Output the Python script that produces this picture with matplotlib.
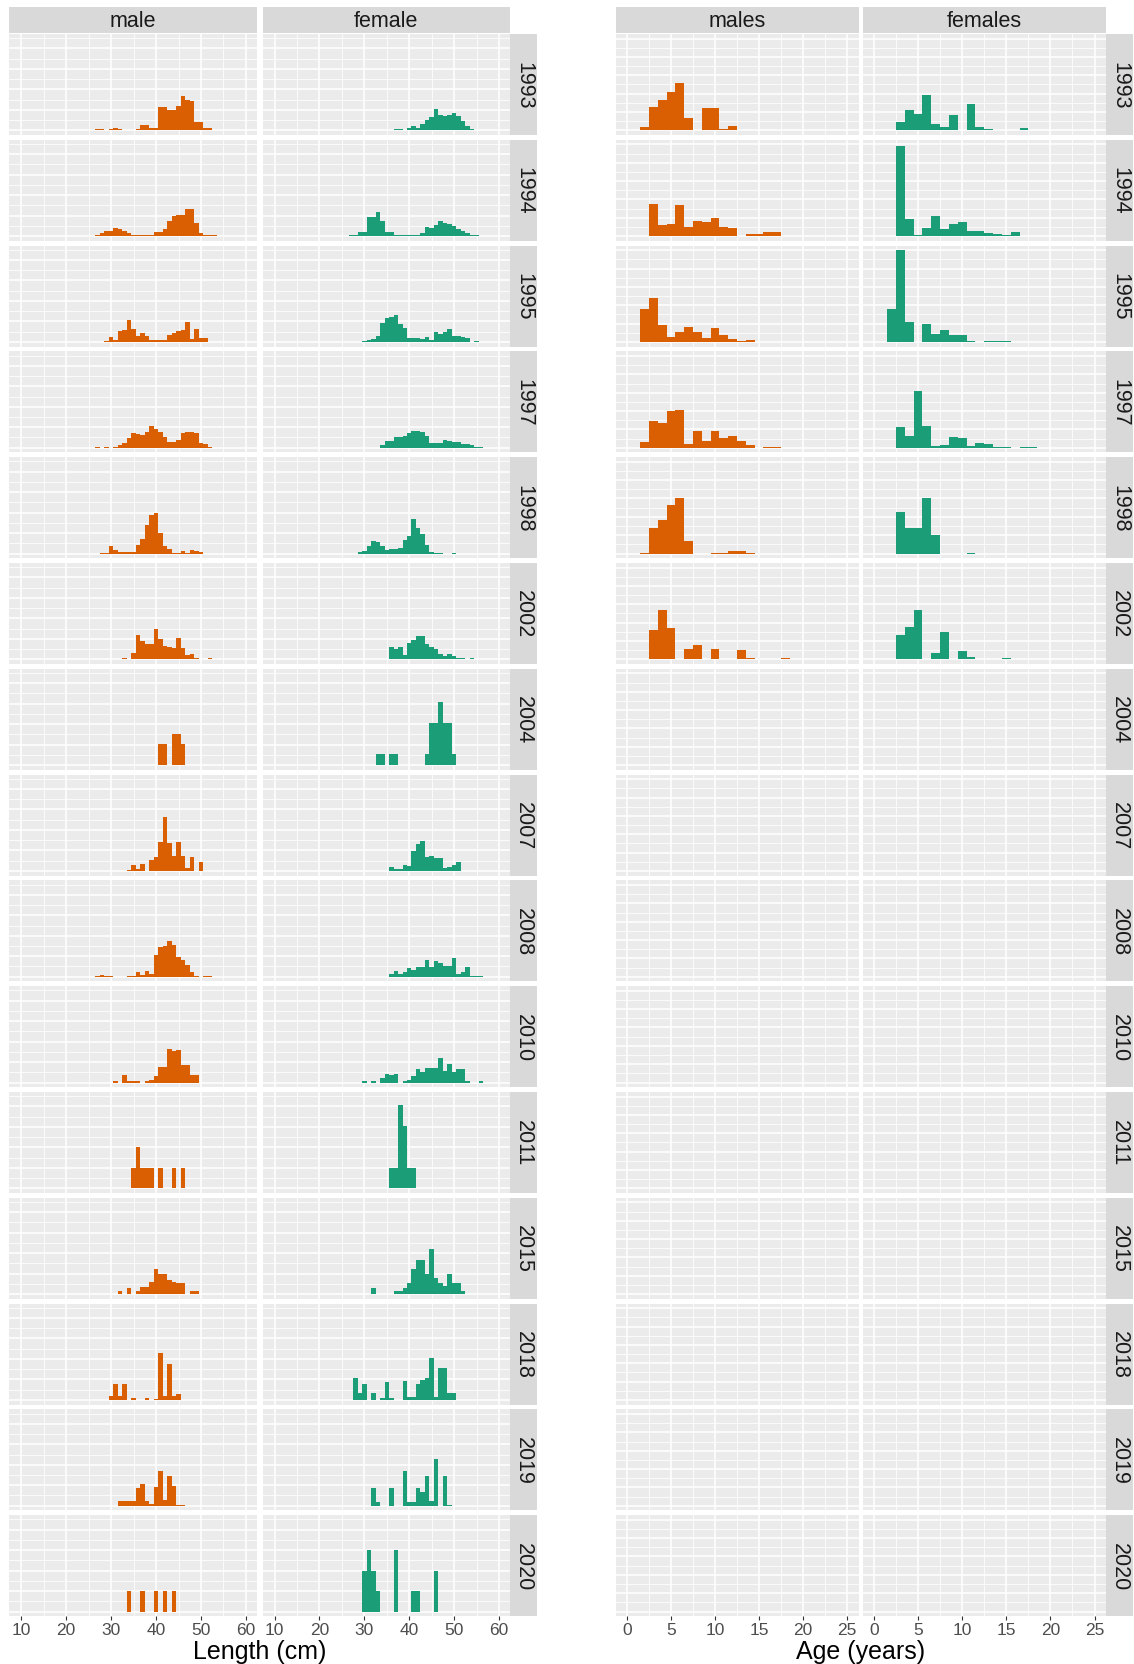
import matplotlib.pyplot as plt
import numpy as np

plt.rcParams['font.family'] = ['Liberation Sans', 'DejaVu Sans']

W, H = 1134, 1665
ORANGE = '#D95F02'
GREEN = '#1B9E77'

years = [1993, 1994, 1995, 1997, 1998, 2002, 2004, 2007, 2008, 2010, 2011, 2015, 2018, 2019, 2020]
age_years = [1993, 1994, 1995, 1997, 1998, 2002]

# length histograms: (first bin centre in cm, heights in % per 1 cm bin)
male_length = {
    1993: (27, [0.5, 0.5, 0, 0.5, 1.3, 0.5, 0, 0.3, 0, 0.5, 2.6, 2.6, 1.3, 1.3, 11.2, 11.2, 10.0, 10.0,
                11.7, 16.9, 15.0, 14.5, 3.9, 3.9, 1.3, 1.3]),
    1994: (27, [0.7, 1.5, 2.3, 2.3, 3.9, 3.3, 2.3, 1.5, 0.7, 0.3, 0.7, 0.3, 0.3, 2.0, 2.0, 3.6, 7.6, 9.8,
                10.1, 10.1, 13.0, 13.0, 6.3, 1.6, 0.7, 0.3, 0.3]),
    1995: (29, [0.5, 2.3, 1.1, 5.5, 5.9, 10.9, 6.3, 2.8, 4.4, 3.1, 0.7, 1.1, 0.7, 1.1, 3.4, 4.4, 5.5, 6.0,
                9.6, 1.3, 6.3, 2.0, 2.0]),
    1997: (27, [0.2, 0, 0.3, 0, 0.5, 1.5, 2.3, 4.7, 7.2, 6.8, 6.3, 7.8, 10.4, 9.1, 7.5, 5.0, 2.9, 2.6,
                3.9, 7.2, 7.6, 7.5, 7.3, 2.3, 1.6, 0.2]),
    1998: (28, [0.2, 0.2, 3.7, 1.8, 0.8, 0.8, 0.8, 0.8, 4.4, 7.3, 14.0, 18.9, 20.0, 10.2, 3.7, 2.1, 0.2,
                0.2, 1.1, 0.3, 1.6, 1.3, 0.5]),
    2002: (33, [0.5, 0, 2.9, 11.7, 8.9, 7.3, 7.3, 15.0, 9.8, 6.3, 5.9, 5.4, 10.2, 5.7, 2.0, 2.8, 0.5, 0,
                0, 0.5]),
    2004: (41, [10.1, 10.1, 0, 15.4, 15.4, 10.1]),
    2007: (34, [0.5, 2.9, 1.0, 3.4, 0.2, 5.5, 6.7, 14.0, 26.2, 13.7, 7.2, 14.3, 7.2, 1.3, 6.7, 0.2, 4.2]),
    2008: (27, [0.3, 0.8, 0.3, 0.3, 0, 0, 0, 0.5, 0.3, 2.1, 1.0, 2.6, 1.5, 10.7, 14.3, 15.1, 17.6, 15.6,
                9.4, 8.1, 5.7, 2.1, 0.5, 0, 0.3, 0.3]),
    2010: (31, [0.5, 0, 3.6, 0.5, 0.5, 0.5, 0, 0.5, 1.0, 3.3, 7.5, 7.5, 16.6, 15.5, 15.8, 8.4, 8.4, 3.6, 3.6]),
    2011: (35, [9.9, 20.0, 9.9, 9.9, 9.9, 0, 9.9, 0, 0, 9.9, 0, 9.9]),
    2015: (32, [1.5, 0, 2.8, 0, 1.6, 3.7, 3.7, 5.7, 12.2, 9.6, 9.6, 6.8, 5.7, 5.5, 5.5, 0, 1.5, 1.5]),
    2018: (30, [2.0, 7.8, 2.0, 7.8, 0, 0.8, 0, 0, 0.8, 0, 0.5, 22.8, 2.0, 17.4, 2.0, 2.8]),
    2019: (32, [2.4, 2.1, 2.1, 2.1, 8.5, 10.6, 2.1, 0.8, 8.9, 17.1, 2.8, 14.6, 9.8, 0.3, 0.3]),
    2020: (34, [9.9, 0, 0, 9.9, 0, 0, 9.9, 0, 9.9, 0, 9.9]),
}

female_length = {
    1993: (36, [0.3, 0.8, 0.8, 0, 1.0, 2.0, 1.0, 3.3, 4.9, 6.5, 10.4, 7.6, 7.2, 7.6, 8.5, 6.8, 4.4, 2.3, 0.5]),
    1994: (27, [0.5, 0.5, 2.0, 2.0, 9.3, 9.3, 11.7, 7.6, 2.0, 2.0, 0.7, 0.7, 0.7, 0.7, 0.7, 0.7, 1.5, 4.4,
                3.9, 5.2, 7.5, 6.4, 6.0, 4.7, 3.6, 2.4, 1.5, 0.5, 0.5]),
    1995: (30, [0.3, 1.0, 1.5, 3.1, 9.3, 11.5, 12.0, 13.2, 8.8, 6.7, 2.0, 1.8, 1.8, 1.6, 2.6, 1.1, 4.7, 3.9,
                5.0, 6.3, 3.1, 2.8, 2.3, 1.8, 0, 0.5]),
    1997: (34, [1.3, 3.4, 3.4, 5.0, 5.0, 5.9, 7.2, 8.0, 8.0, 7.5, 5.5, 2.3, 2.3, 2.3, 3.7, 3.3, 2.9, 2.6,
                1.6, 2.0, 1.3, 0.3, 0.3]),
    1998: (29, [0.5, 1.3, 3.7, 5.9, 5.4, 3.7, 1.8, 2.4, 2.4, 2.8, 6.7, 8.6, 16.7, 12.7, 9.4, 4.2, 0.8, 0.3,
                0.3, 0, 0, 0.3]),
    2002: (36, [6.2, 4.9, 6.2, 2.0, 8.1, 9.3, 11.4, 11.4, 7.3, 6.2, 5.2, 2.8, 1.6, 2.6, 1.6, 0.5, 0.5, 0, 0.5]),
    2004: (33, [5.2, 5.2, 0, 5.2, 5.2, 0, 0, 0, 0, 0, 0, 5.2, 20.7, 20.7, 30.9, 20.7, 20.7, 5.2]),
    2007: (36, [1.8, 0.7, 0.7, 2.9, 2.6, 9.9, 13.2, 14.5, 6.7, 7.5, 6.2, 6.2, 1.5, 1.8, 2.9, 4.2]),
    2008: (36, [1.3, 2.9, 1.3, 2.4, 4.1, 3.3, 4.6, 4.6, 8.3, 4.6, 7.6, 6.6, 5.4, 5.0, 8.9, 1.3, 2.4, 4.6,
                0.5, 0.3, 0.3]),
    2010: (30, [0.5, 0, 0.5, 0, 2.0, 4.0, 3.8, 4.0, 0, 0.8, 1.3, 3.3, 6.5, 4.9, 7.3, 7.3, 7.3, 12.0, 5.7,
                8.9, 4.9, 6.5, 6.5, 0.5, 0, 0, 0.5]),
    2011: (36, [9.9, 9.9, 40.7, 30.2, 9.9, 9.9]),
    2015: (32, [2.8, 0, 0, 0, 0, 1.5, 1.5, 2.8, 5.2, 12.5, 16.6, 16.6, 9.6, 21.8, 8.0, 5.5, 3.9, 9.6, 5.5,
                5.5, 1.5]),
    2018: (28, [10.6, 3.6, 7.8, 0, 3.6, 0, 1.1, 8.9, 1.1, 0, 0, 9.3, 1.6, 1.6, 7.8, 9.8, 10.9, 20.3, 1.6,
                15.4, 15.4, 3.6, 3.3]),
    2019: (32, [8.6, 2.0, 0, 0, 8.6, 0, 0, 17.1, 1.6, 1.6, 8.6, 6.8, 14.6, 2.4, 22.8, 0, 14.3, 0.3]),
    2020: (30, [20.0, 30.2, 20.0, 9.9, 0, 0, 0, 30.2, 0, 0, 0, 9.9, 9.9, 0, 0, 0, 20.0]),
}

# age histograms: (first age, heights in % per 1 year bin)
male_age = {
    1993: (2, [2.0, 12.5, 16.4, 20.9, 25.8, 6.9, 0, 12.2, 12.2, 0.9, 2.4]),
    1994: (2, [0.2, 17.5, 5.8, 6.5, 16.9, 4.7, 8.0, 7.6, 9.8, 5.1, 4.4, 0, 1.1, 1.1, 2.0, 2.0]),
    1995: (2, [18.0, 23.8, 9.3, 2.5, 5.6, 8.0, 5.3, 2.0, 7.5, 3.8, 1.6, 0.7, 1.1]),
    1997: (2, [2.9, 14.7, 13.5, 20.2, 20.5, 1.8, 9.3, 3.8, 9.3, 5.3, 6.2, 3.5, 1.5, 0, 0.2, 0.2]),
    1998: (2, [0.2, 13.8, 18.4, 26.5, 30.0, 6.9, 0, 0, 0.5, 0.5, 1.1, 1.1, 0.5]),
    2002: (3, [15.8, 26.9, 16.9, 0, 5.8, 7.6, 0, 5.8, 0.4, 0.4, 4.9, 0.7, 0, 0, 0, 0.7]),
}

female_age = {
    1993: (3, [4.4, 11.3, 8.9, 19.5, 3.3, 1.6, 8.4, 0, 14.5, 2.0, 0.7, 0, 0, 0, 1.5]),
    1994: (2, [0.2, 48.9, 9.1, 0.7, 4.4, 11.1, 4.0, 6.5, 7.5, 2.9, 2.9, 1.8, 1.1, 0.5, 2.5]),
    1995: (2, [18.0, 50.0, 11.1, 0, 9.8, 4.4, 6.5, 3.8, 3.5, 0.7, 0, 0.5, 0.5, 0.5]),
    1997: (3, [11.1, 6.5, 31.1, 12.0, 1.1, 1.6, 5.6, 5.1, 1.1, 2.5, 2.0, 0.2, 0.5, 0, 0.5, 0.3]),
    1998: (3, [22.9, 13.8, 13.8, 30.5, 10.2, 0, 0, 0, 0.5]),
    2002: (3, [13.3, 17.8, 26.9, 0, 3.3, 14.9, 0, 4.4, 1.5, 0.4, 0, 0.4, 0.7]),
}

fig = plt.figure(figsize=(W / 100, H / 100), dpi=100)


def px_axes(x0, y0, x1, y1):
    return fig.add_axes([x0 / W, 1 - y1 / H, (x1 - x0) / W, (y1 - y0) / H])


def style_panel(ax, xlim, ylim, xmaj, xmin, ymaj, ymin, bottom):
    ax.set_facecolor('#EBEBEB')
    ax.set_xlim(xlim)
    ax.set_ylim(ylim)
    ax.set_xticks(xmaj)
    ax.set_xticks(xmin, minor=True)
    ax.set_yticks(ymaj)
    ax.set_yticks(ymin, minor=True)
    ax.grid(which='major', color='white', lw=1.1)
    ax.grid(which='minor', color='white', lw=0.55)
    ax.set_axisbelow(True)
    for s in ax.spines.values():
        s.set_visible(False)
    ax.tick_params(axis='y', which='both', left=False, labelleft=False)
    ax.tick_params(axis='x', which='minor', bottom=False)
    if bottom:
        ax.tick_params(axis='x', which='major', length=3, width=0.8, color='#333333',
                       labelsize=12.5, labelcolor='#4D4D4D', pad=1.5)
    else:
        ax.tick_params(axis='x', which='major', bottom=False, labelbottom=False)


def draw_hist(ax, series, color):
    start, vals = series
    edges = start - 0.5 + np.arange(len(vals) + 1)
    ax.stairs(vals, edges, fill=True, color=color, lw=0)


def strip(x0, y0, x1, y1, label, rot):
    sa = px_axes(x0, y0, x1, y1)
    sa.set_facecolor('#D9D9D9')
    sa.set_xticks([])
    sa.set_yticks([])
    for s in sa.spines.values():
        s.set_visible(False)
    sa.text(0.5, 0.5, label, rotation=rot, ha='center', va='center',
            fontsize=15.5, color='#1A1A1A', transform=sa.transAxes)


top0, pitch, ph = 35.0, 105.8, 100.9

left_cols = [(9.0, 257.0, 'male', male_length, ORANGE), (262.5, 510.0, 'female', female_length, GREEN)]
right_cols = [(615.5, 858.5, 'males', male_age, ORANGE), (862.5, 1106.0, 'females', female_age, GREEN)]
left_strip = (510.0, 537.0)
right_strip = (1106.0, 1133.0)

len_lim = (7.3, 62.45)
age_lim = (-1.3, 26.3)
len_ylim = (-2.24, 47.04)
age_ylim = (-2.5, 52.5)

for i, yr in enumerate(years):
    y0 = top0 + i * pitch
    y1 = y0 + ph
    last = i == len(years) - 1
    for x0, x1, name, data, col in left_cols:
        ax = px_axes(x0, y0, x1, y1)
        style_panel(ax, len_lim, len_ylim, range(10, 61, 10), range(15, 56, 10),
                    range(0, 41, 10), range(5, 46, 10), last)
        if yr in data:
            draw_hist(ax, data[yr], col)
    strip(left_strip[0], y0, left_strip[1], y1, str(yr), 270)

    for x0, x1, name, data, col in right_cols:
        ax = px_axes(x0, y0, x1, y1)
        style_panel(ax, age_lim, age_ylim, range(0, 26, 5), np.arange(2.5, 25, 5),
                    range(0, 51, 10), range(5, 46, 10), last)
        if yr in data:
            draw_hist(ax, data[yr], col)
    strip(right_strip[0], y0, right_strip[1], y1, str(yr), 270)

for x0, x1, name, data, col in left_cols + right_cols:
    strip(x0, 8.3, x1, 34.3, name, 0)

fig.text((left_cols[0][0] + left_cols[1][1]) / 2 / W, 1 - 1652 / H, 'Length (cm)',
         ha='center', va='center', fontsize=18, color='black')
fig.text((right_cols[0][0] + right_cols[1][1]) / 2 / W, 1 - 1652 / H, 'Age (years)',
         ha='center', va='center', fontsize=18, color='black')

fig.savefig('out.png', dpi=100)
